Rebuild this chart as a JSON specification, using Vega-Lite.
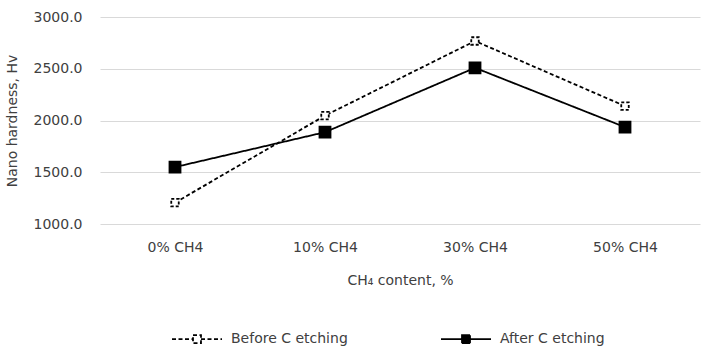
{
  "$schema": "https://vega.github.io/schema/vega-lite/v6.json",
  "width": 600,
  "height": 207,
  "autosize": "none",
  "padding": {"left": 100, "top": 17, "right": 12, "bottom": 128},
  "background": "white",
  "config": {
    "font": "DejaVu Sans",
    "view": {"stroke": null},
    "axis": {"labelFont": "DejaVu Sans", "titleFont": "DejaVu Sans", "labelFontSize": 14, "titleFontSize": 14, "labelColor": "#404040", "titleColor": "#404040", "titleFontWeight": "normal"}
  },
  "data": {
    "values": [
      {"ch4": "0% CH4", "series": "Before C etching", "hv": 1206},
      {"ch4": "10% CH4", "series": "Before C etching", "hv": 2047},
      {"ch4": "30% CH4", "series": "Before C etching", "hv": 2768},
      {"ch4": "50% CH4", "series": "Before C etching", "hv": 2139},
      {"ch4": "0% CH4", "series": "After C etching", "hv": 1550},
      {"ch4": "10% CH4", "series": "After C etching", "hv": 1887},
      {"ch4": "30% CH4", "series": "After C etching", "hv": 2509},
      {"ch4": "50% CH4", "series": "After C etching", "hv": 1936}
    ]
  },
  "encoding": {
    "x": {
      "field": "ch4", "type": "nominal", "sort": ["0% CH4", "10% CH4", "30% CH4", "50% CH4"],
      "scale": {"paddingInner": 0, "paddingOuter": 0},
      "axis": {"title": "CH₄ content, %", "labelAngle": 0, "domain": false, "ticks": false, "labelPadding": 16, "titlePadding": 19}
    },
    "y": {
      "field": "hv", "type": "quantitative",
      "scale": {"domain": [1000, 3000], "nice": false, "zero": false},
      "axis": {"title": "Nano hardness, Hv", "values": [1000, 1500, 2000, 2500, 3000], "format": ".1f", "domain": false, "ticks": false, "labelPadding": 18, "titlePadding": 14, "gridColor": "#d9d9d9", "gridWidth": 1}
    }
  },
  "layer": [
    {
      "mark": {"type": "line", "color": "black", "strokeWidth": 1.8},
      "encoding": {
        "strokeDash": {
          "field": "series", "type": "nominal",
          "scale": {"domain": ["Before C etching", "After C etching"], "range": [[4, 2.5], [1, 0]]},
          "legend": {
            "title": null, "orient": "none", "legendX": 90, "legendY": 315, "direction": "horizontal",
            "symbolType": "M-5,0H-0.8M0.8,0H5M-0.8,-0.8H0.8V0.8H-0.8Z",
            "symbolStrokeColor": "black", "symbolStrokeWidth": 1.8,
            "labelFontSize": 14, "labelColor": "#404040", "labelFont": "DejaVu Sans", "columnPadding": 89, "labelOffset": 27,
            "encode": {"symbols": {"update": {
              "stroke": {"value": "black"},
              "strokeWidth": {"value": 1.8},
              "fill": {"signal": "datum.value === 'After C etching' ? 'black' : 'white'"},
              "fillOpacity": {"value": 1},
              "opacity": {"value": 1}
            }}}
          }
        }
      }
    },
    {
      "transform": [{"filter": "datum.series === 'Before C etching'"}],
      "mark": {"type": "point", "shape": "square", "size": 56, "fill": "white", "fillOpacity": 1, "stroke": "black", "strokeWidth": 1.8, "strokeDash": [3, 2], "opacity": 1}
    },
    {
      "transform": [{"filter": "datum.series === 'After C etching'"}],
      "mark": {"type": "point", "shape": "square", "size": 121, "fill": "black", "fillOpacity": 1, "stroke": "black", "strokeWidth": 1.8, "opacity": 1}
    }
  ]
}
